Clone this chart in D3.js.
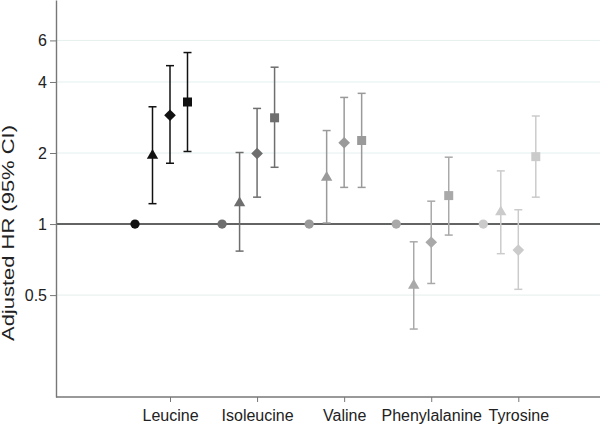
<!DOCTYPE html>
<html>
<head>
<meta charset="utf-8">
<script src="https://cdn.jsdelivr.net/npm/d3@7"></script>
<style>
  html, body { margin: 0; padding: 0; background: #fff; }
  svg { display: block; font-family: "Liberation Sans", Arial, Helvetica, sans-serif; }
</style>
</head>
<body>
<svg id="chart" width="600" height="426"></svg>
<script>
// ---- data ----
const categories = ["Leucine", "Isoleucine", "Valine", "Phenylalanine", "Tyrosine"];
const series = ["Q1", "Q2", "Q3", "Q4"]; // circle (reference), triangle, diamond, square
const categoryColors = ["#111111", "#6e6e6e", "#9a9a9a", "#a9a9a9", "#cbcbcb"];
const yTicks = [0.5, 1, 2, 4, 6];

// hazard ratios per category, per series
const hr = [
  [1, 1.97, 2.89, 3.29],
  [1, 1.24, 1.99, 2.82],
  [1, 1.59, 2.21, 2.26],
  [1, 0.555, 0.837, 1.32],
  [1, 1.135, 0.776, 1.93]
];
const lower = [
  [null, 1.22, 1.81, 2.03],
  [null, 0.768, 1.30, 1.74],
  [null, 1.01, 1.43, 1.43],
  [null, 0.359, 0.56, 0.898],
  [null, 0.749, 0.529, 1.30]
];
const upper = [
  [null, 3.14, 4.69, 5.33],
  [null, 2.01, 3.09, 4.62],
  [null, 2.49, 3.44, 3.58],
  [null, 0.841, 1.25, 1.92],
  [null, 1.68, 1.15, 2.87]
];

// ---- layout ----
const svg = d3.select("#chart");
const mLeft = 56, mRight = 600, mTop = 0, mBottom = 397;

const y = d3.scaleLog().domain([0.185, 8.9]).range([mBottom, mTop]);
const x = d3.scalePoint().domain(categories).range([170, 518.3]);
const xs = d3.scalePoint().domain(series).range([-35, 17.5]);

// gridlines
svg.append("g").selectAll("line").data(yTicks).join("line")
  .attr("x1", mLeft).attr("x2", mRight)
  .attr("y1", d => y(d)).attr("y2", d => y(d))
  .attr("stroke", "#e4efee").attr("stroke-width", 1);

// reference line at 1
svg.append("line")
  .attr("x1", mLeft).attr("x2", mRight)
  .attr("y1", y(1)).attr("y2", y(1))
  .attr("stroke", "#333").attr("stroke-width", 1.6);

// y axis
const yAxis = d3.axisLeft(y).tickValues(yTicks).tickFormat(d3.format("~g")).tickSize(6).tickSizeOuter(0);
const gy = svg.append("g").attr("transform", `translate(${mLeft},0)`).call(yAxis);
gy.select(".domain").attr("stroke", "#777").attr("stroke-width", 1.4);
gy.selectAll(".tick line").attr("stroke", "#777");
gy.selectAll(".tick text").attr("font-size", 16).attr("fill", "#222").attr("font-family", "Liberation Sans, Arial, sans-serif").attr("x", -9);

// x axis
const xAxis = d3.axisBottom(x).tickSize(5).tickSizeOuter(0);
const gx = svg.append("g").attr("transform", `translate(0,${mBottom})`).call(xAxis);
gx.select(".domain").remove();
gx.append("line").attr("x1", mLeft).attr("x2", mRight).attr("y1", 0).attr("y2", 0)
  .attr("stroke", "#777").attr("stroke-width", 1.4);
gx.selectAll(".tick line").attr("stroke", "#777");
gx.selectAll(".tick text").attr("font-size", 16).attr("fill", "#222").attr("font-family", "Liberation Sans, Arial, sans-serif").attr("y", 13);

// y axis title
svg.append("text")
  .attr("transform", `translate(14,233) rotate(-90)`)
  .attr("text-anchor", "middle")
  .attr("font-size", 17).attr("fill", "#222")
  .attr("textLength", 216).attr("lengthAdjust", "spacingAndGlyphs")
  .text("Adjusted HR (95% CI)");

// points
const pts = [];
categories.forEach((c, ci) => {
  series.forEach((s, si) => {
    pts.push({c, s, ci, si, v: hr[ci][si], lo: lower[ci][si], hi: upper[ci][si], color: categoryColors[ci]});
  });
});

const cap = 4;
const g = svg.append("g");
pts.filter(d => d.lo != null).forEach(d => {
  const cx = x(d.c) + xs(d.s);
  g.append("line").attr("x1", cx).attr("x2", cx).attr("y1", y(d.lo)).attr("y2", y(d.hi))
    .attr("stroke", d.color).attr("stroke-width", 1.5);
  [d.lo, d.hi].forEach(v => {
    g.append("line").attr("x1", cx - cap).attr("x2", cx + cap).attr("y1", y(v)).attr("y2", y(v))
      .attr("stroke", d.color).attr("stroke-width", 1.5);
  });
});

const shapes = [
  {type: d3.symbolCircle, size: 68, rot: 0},
  {type: d3.symbolTriangle, size: 56, rot: 0},
  {type: d3.symbolSquare, size: 68, rot: 45},
  {type: d3.symbolSquare, size: 81, rot: 0}
];
pts.forEach(d => {
  const sh = shapes[d.si];
  const cx = x(d.c) + xs(d.s);
  const yOff = d.si === 1 ? 1 : 0;
  g.append("path")
    .attr("d", d3.symbol().type(sh.type).size(sh.size)())
    .attr("transform", `translate(${cx},${y(d.v) + yOff}) rotate(${sh.rot})`)
    .attr("fill", d.color);
});
</script>
</body>
</html>
